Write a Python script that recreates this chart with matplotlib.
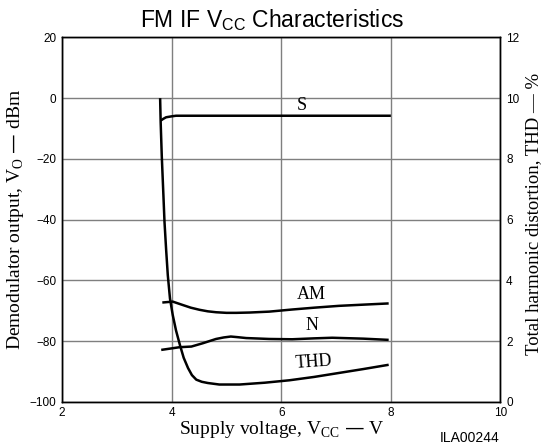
import numpy as np
import matplotlib.pyplot as plt

# supply voltage vs. demodulator output (dBm)
s_v = [3.8, 3.85, 3.9, 4.0, 4.08, 4.4, 5.0, 6.0, 7.0, 8.0]
s_db = [-7.4, -6.8, -6.3, -6.0, -5.8, -5.8, -5.8, -5.8, -5.8, -5.8]

am_v = [3.83, 4.02, 4.2, 4.35, 4.51, 4.66, 4.81, 5.0, 5.18, 5.42, 5.78, 6.2, 6.6, 7.05, 7.5, 7.96]
am_db = [-67.3, -67.0, -68.1, -69.0, -69.7, -70.2, -70.5, -70.7, -70.7, -70.6, -70.3, -69.6, -69.0, -68.4, -68.0, -67.6]

n_v = [3.81, 4.0, 4.15, 4.36, 4.57, 4.81, 4.95, 5.08, 5.2, 5.36, 5.78, 6.2, 6.6, 6.93, 7.5, 7.96]
n_db = [-82.9, -82.4, -82.0, -81.8, -80.7, -79.3, -78.8, -78.5, -78.7, -79.0, -79.3, -79.4, -79.1, -78.9, -79.2, -79.6]

# supply voltage vs. THD (%)
thd_v = [3.79, 3.80, 3.82, 3.85, 3.87, 3.9, 3.93, 3.97, 4.02, 4.08, 4.15, 4.22, 4.30, 4.37, 4.45, 4.55,
         4.66, 4.87, 5.24, 5.7, 6.15, 6.6, 7.05, 7.5, 7.96]
thd_pct = [10.0, 9.2, 8.1, 6.8, 5.92, 5.0, 4.17, 3.4, 2.86, 2.35, 1.88, 1.45, 1.11, 0.88, 0.73, 0.66,
           0.62, 0.57, 0.57, 0.63, 0.71, 0.82, 0.95, 1.08, 1.22]

serif = "Liberation Serif"
sans = "Liberation Sans"

fig = plt.figure(figsize=(5.44, 4.45), dpi=100)
ax = fig.add_axes([0.114, 0.097, 0.806, 0.819])
ax2 = ax.twinx()

ax.set_xlim(2, 10)
ax.set_ylim(-100, 20)
ax2.set_ylim(0, 12)

ax.set_xticks([2, 4, 6, 8, 10])
ax.set_yticks(np.arange(-100, 21, 20))
ax2.set_yticks(np.arange(0, 13, 2))
ax.set_yticklabels(["\u2212100", "\u221280", "\u221260", "\u221240", "\u221220", "0", "20"])

ax.grid(True, color="#7f7f7f", linewidth=1.0)
ax.set_axisbelow(True)
ax.tick_params(length=0, pad=4, labelsize=8.5)
ax2.tick_params(length=0, pad=4, labelsize=8.5)
for lab in ax.get_xticklabels() + ax.get_yticklabels() + ax2.get_yticklabels():
    lab.set_fontfamily(sans)
for sp in list(ax.spines.values()) + list(ax2.spines.values()):
    sp.set_linewidth(1.0)

lw = 1.8
kw = dict(color="black", lw=lw, solid_joinstyle="round", solid_capstyle="butt")
ax.plot(s_v, s_db, **kw)
ax.plot(am_v, am_db, **kw)
ax.plot(n_v, n_db, **kw)
ax2.plot(thd_v, thd_pct, **kw)

lbl = 13
ax.text(6.37, -2.3, "S", family=serif, fontsize=lbl, ha="center", va="center")
ax.text(6.54, -64.8, "AM", family=serif, fontsize=lbl, ha="center", va="center")
ax.text(6.56, -75.0, "N", family=serif, fontsize=lbl, ha="center", va="center")
ax.text(6.6, -86.8, "THD", family=serif, fontsize=lbl, ha="center", va="center", rotation=4)

ax.set_xlabel("Supply voltage, V$_{\\mathregular{CC}}$ \u2014 V", family=serif, fontsize=14, labelpad=0)
ax.set_ylabel("Demodulator output, V$_{\\mathregular{O}}$ \u2014 dBm", family=serif, fontsize=14, labelpad=3)
fig.text(534 / 544, 0.52, "Total harmonic distortion, THD \u2014 %", family=serif, fontsize=13.5,
         rotation=90, ha="center", va="center")

fig.text(0.5, 0.955, "FM IF V$_{\\mathregular{CC}}$ Characteristics", family=sans, fontsize=16.5,
         ha="center", va="center")
fig.text(0.864, 0.016, "ILA00244", family=sans, fontsize=10, ha="center", va="center")
fig.text(0.921, 1.012, "ILA00242", family=sans, fontsize=10, ha="center", va="center")

fig.savefig("out.png", dpi=100)
